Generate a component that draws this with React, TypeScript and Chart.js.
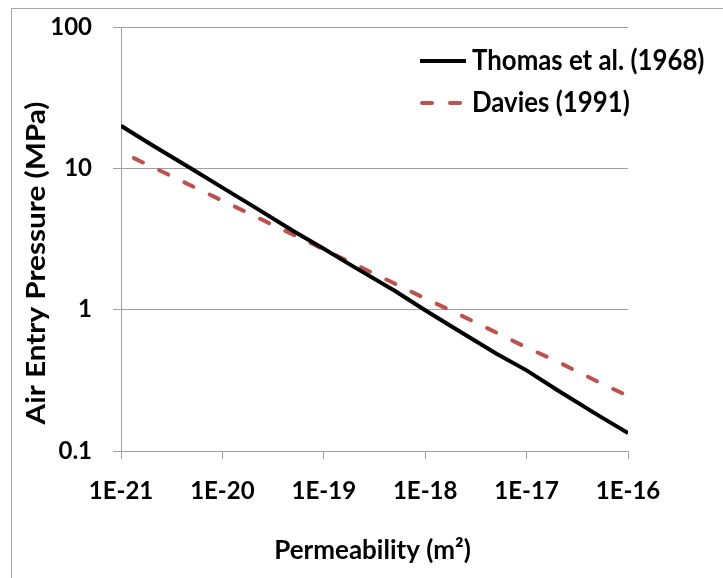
import React, { useEffect, useRef } from "react";
import { Chart, registerables } from "chart.js";

Chart.register(...registerables);

// Thomas et al. (1968)
const thomasPermeability = [1e-21, 2e-21, 5e-21, 1e-20, 2e-20, 5e-20, 1e-19, 2e-19, 5e-19, 1e-18, 2e-18, 5e-18, 1e-17, 2e-17, 5e-17, 1e-16];
const thomasPressure = [20, 14.7, 9.9, 7.3, 5.4, 3.6, 2.7, 2.0, 1.36, 0.99, 0.73, 0.49, 0.372, 0.27, 0.18, 0.134];

// Davies (1991)
const daviesPermeability = [1.34e-21, 2e-21, 5e-21, 1e-20, 2e-20, 5e-20, 1e-19, 2e-19, 5e-19, 1e-18, 2e-18, 5e-18, 1e-17, 2e-17, 5e-17, 1e-16];
const daviesPressure = [11.8, 10.3, 7.5, 5.9, 4.65, 3.39, 2.67, 2.1, 1.53, 1.2, 0.95, 0.69, 0.54, 0.43, 0.31, 0.245];

const xTickValues = [1e-21, 1e-20, 1e-19, 1e-18, 1e-17, 1e-16];
const xTickLabels = ["1E-21", "1E-20", "1E-19", "1E-18", "1E-17", "1E-16"];
const yTickValues = [0.1, 1, 10, 100];
const yTickLabels = ["0.1", "1", "10", "100"];

const seriesNames = ["Thomas et al. (1968)", "Davies (1991)"];
const xTitle = "Permeability (m\u00B2)";
const yTitle = "Air Entry Pressure (MPa)";

const FONT = "Lato, 'Open Sans', sans-serif";
const GRID = "#a0a0a0";

const overlayPlugin = {
  id: "overlay",
  afterDraw(chart: any) {
    const { ctx, chartArea } = chart;
    ctx.save();
    ctx.fillStyle = "#000";
    // axis titles
    ctx.font = `bold 26px ${FONT}`;
    ctx.textAlign = "center";
    ctx.textBaseline = "middle";
    ctx.fillText(xTitle, (chartArea.left + chartArea.right) / 2 - 2, chartArea.bottom + 100);
    ctx.save();
    ctx.font = `bold 27px ${FONT}`;
    ctx.translate(chartArea.left - 85, chartArea.top + 236);
    ctx.rotate(-Math.PI / 2);
    ctx.scale(1.1, 1);
    ctx.fillText(yTitle, 0, 0);
    ctx.restore();

    // legend
    const x0 = chartArea.right - 208;
    const rowY = [chartArea.top + 34, chartArea.top + 76];
    chart.data.datasets.forEach((ds: any, i: number) => {
      const y = rowY[i];
      ctx.save();
      ctx.strokeStyle = ds.borderColor;
      ctx.lineWidth = ds.borderWidth;
      ctx.lineCap = ds.borderCapStyle || "butt";
      ctx.setLineDash(ds.borderDash || []);
      ctx.beginPath();
      ctx.moveTo(x0 + (ds.borderDash ? 2 : 0), y);
      ctx.lineTo(x0 + 46, y);
      ctx.stroke();
      ctx.restore();
      ctx.save();
      ctx.font = `bold 29px ${FONT}`;
      ctx.textAlign = "left";
      ctx.textBaseline = "middle";
      ctx.translate(x0 + 52, y);
      ctx.scale(0.89, 1);
      ctx.fillText(ds.label, 0, 0);
      ctx.restore();
    });
    ctx.restore();
  },
};

export default function App() {
  const canvasRef = useRef<HTMLCanvasElement | null>(null);

  useEffect(() => {
    const canvas = canvasRef.current;
    if (!canvas) return;
    const chart = new Chart(canvas, {
      type: "line",
      data: {
        datasets: [
          {
            label: seriesNames[0],
            data: thomasPermeability.map((k, i) => ({ x: k, y: thomasPressure[i] })),
            borderColor: "#000000",
            backgroundColor: "#000000",
            borderWidth: 4,
            pointRadius: 0,
            tension: 0,
            fill: false,
          },
          {
            label: seriesNames[1],
            data: daviesPermeability.map((k, i) => ({ x: k, y: daviesPressure[i] })),
            borderColor: "#C0504D",
            backgroundColor: "#C0504D",
            borderWidth: 4,
            borderDash: [10, 18],
            borderCapStyle: "round",
            pointRadius: 0,
            tension: 0,
            fill: false,
          },
        ],
      },
      options: {
        responsive: false,
        animation: false,
        layout: { padding: { top: 27, right: 95, left: 0, bottom: 0 } },
        plugins: {
          legend: { display: false },
          tooltip: { enabled: false },
          title: { display: false },
        },
        scales: {
          x: {
            type: "logarithmic",
            min: 1e-21,
            max: 1e-16,
            afterBuildTicks: (s: any) => {
              s.ticks = xTickValues.map((v) => ({ value: v }));
            },
            afterFit: (s: any) => {
              s.height = 127;
              s.paddingLeft = 0;
              s.paddingRight = 0;
            },
            ticks: {
              autoSkip: false,
              maxRotation: 0,
              padding: 18,
              color: "#000",
              font: { family: FONT, size: 24, weight: "bold" },
              callback: (_v: any, i: number) => xTickLabels[i],
            },
            grid: { drawOnChartArea: false, drawTicks: true, tickLength: 8, color: GRID, lineWidth: 1 },
            border: { color: GRID, width: 1 },
          },
          y: {
            type: "logarithmic",
            min: 0.1,
            max: 100,
            afterBuildTicks: (s: any) => {
              s.ticks = yTickValues.map((v) => ({ value: v }));
            },
            afterFit: (s: any) => {
              s.width = 121;
              s.paddingTop = 0;
              s.paddingBottom = 0;
            },
            ticks: {
              autoSkip: false,
              padding: 21,
              color: "#000",
              font: { family: FONT, size: 24, weight: "bold" },
              callback: (_v: any, i: number) => yTickLabels[i],
            },
            grid: { drawOnChartArea: true, drawTicks: true, tickLength: 8, color: GRID, lineWidth: 1 },
            border: { color: GRID, width: 1 },
          },
        },
      },
      plugins: [overlayPlugin],
    });
    return () => chart.destroy();
  }, []);

  return (
    <div style={{ position: "fixed", left: 0, top: 0, width: 723, height: 578, background: "#fff" }}>
      <canvas ref={canvasRef} width={723} height={578} style={{ display: "block", width: 723, height: 578 }} />
      <div
        style={{
          position: "absolute",
          left: 11,
          top: 8,
          right: -2,
          bottom: -2,
          borderLeft: "1px solid #a6a6a6",
          borderTop: "1px solid #a6a6a6",
          pointerEvents: "none",
        }}
      />
    </div>
  );
}
